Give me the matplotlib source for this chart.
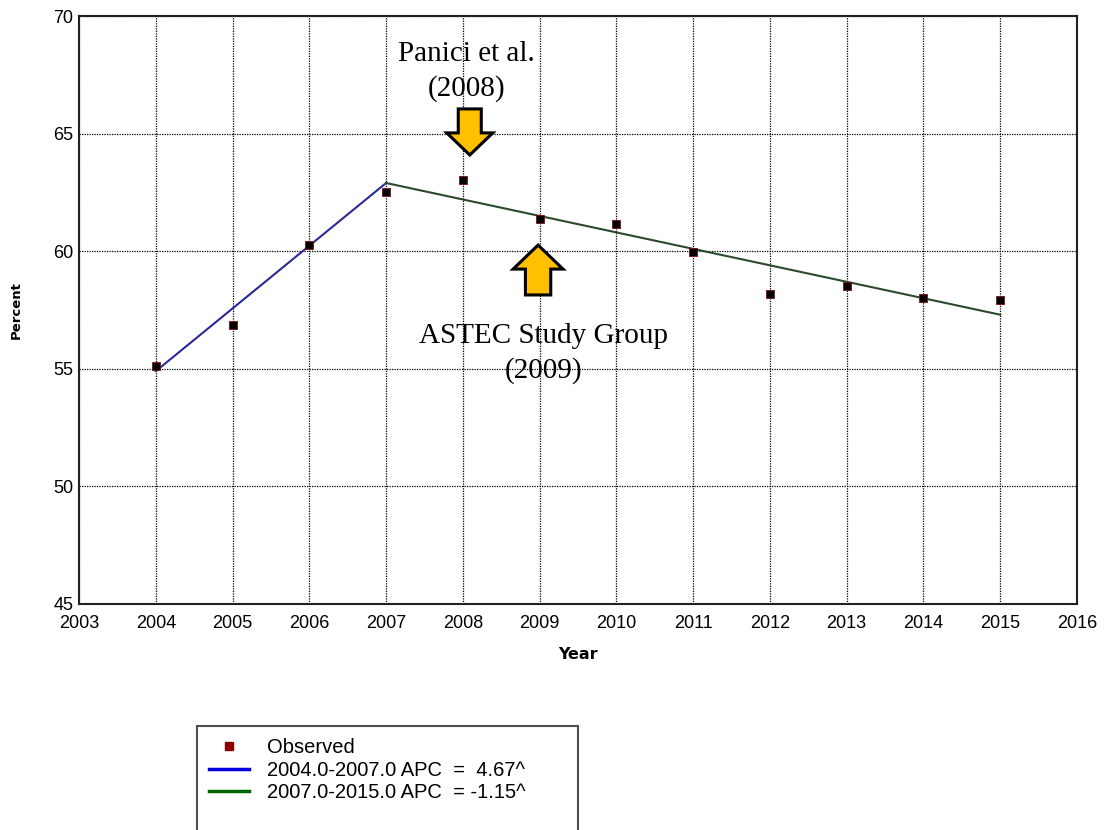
import matplotlib
matplotlib.use("Agg")
import matplotlib.pyplot as plt
from matplotlib.lines import Line2D
from matplotlib.patches import FancyArrow

years = [2004, 2005, 2006, 2007, 2008, 2009, 2010, 2011, 2012, 2013, 2014, 2015]
observed = [55.1, 56.86, 60.26, 62.52, 63.03, 61.37, 61.16, 59.97, 58.18, 58.52, 58.01, 57.93]

seg1_years = [2004, 2007]
seg1_fit = [54.9, 62.9]
seg2_years = [2007, 2015]
seg2_fit = [62.9, 57.3]

seg_labels = ["2004.0-2007.0 APC  =  4.67^", "2007.0-2015.0 APC  = -1.15^"]

fig = plt.figure(figsize=(11.04, 8.3), dpi=100)
ax = fig.add_axes([0.0716, 0.2723, 0.9039, 0.7084])

ax.plot(seg1_years, seg1_fit, color="#2a2a96", linewidth=1.5, zorder=3)
ax.plot(seg2_years, seg2_fit, color="#2c4a2c", linewidth=1.5, zorder=3)
ax.scatter(years, observed, marker="s", s=40, color="black",
           edgecolors="#7a1010", linewidths=0.6, zorder=4)

ax.set_xlim(2003, 2016)
ax.set_ylim(45, 70)
ax.set_xticks(range(2003, 2017))
ax.set_yticks(range(45, 71, 5))
ax.grid(True, color="black", linestyle=(0, (1, 1)), linewidth=0.9)
ax.tick_params(length=0, labelsize=13, pad=4)
ax.tick_params(axis="x", pad=8)
for lab in ax.get_xticklabels() + ax.get_yticklabels():
    lab.set_family("Liberation Sans")
for s in ax.spines.values():
    s.set_linewidth(1.5)
    s.set_color("#222222")

ax.set_xlabel("Year", fontsize=11.5, fontweight="bold", labelpad=11)
ax.set_ylabel("Percent", fontsize=9.5, fontweight="bold", labelpad=22)

# annotation arrows
ax.add_patch(FancyArrow(2008.09, 66.05, 0, -1.96, width=0.3, head_width=0.6,
                        head_length=0.94, length_includes_head=True,
                        facecolor="#FFC000", edgecolor="black", linewidth=2.2, zorder=5))
ax.add_patch(FancyArrow(2008.98, 58.14, 0, 2.12, width=0.33, head_width=0.65,
                        head_length=1.02, length_includes_head=True,
                        facecolor="#FFC000", edgecolor="black", linewidth=2.2, zorder=5))

ax.text(2008.05, 67.65, "Panici et al.\n(2008)", ha="center", va="center",
        family="Liberation Serif", fontsize=21, linespacing=1.4, zorder=6)
ax.text(2009.05, 55.65, "ASTEC Study Group\n(2009)", ha="center", va="center",
        family="Liberation Serif", fontsize=21, linespacing=1.4, zorder=6)

handles = [
    Line2D([], [], linestyle="none", marker="s", markersize=6, color="#8b0000"),
    Line2D([], [], color="#0000dd", linewidth=2.5),
    Line2D([], [], color="#006400", linewidth=2.5),
    Line2D([], [], color="none"),
    Line2D([], [], color="none"),
]
labels = ["Observed"] + seg_labels + [" ", " "]
leg = fig.legend(handles, labels, loc="upper left", mode="expand",
                 bbox_to_anchor=(197 / 1104, 1 - 726 / 830, (578 - 197) / 1104, 0),
                 prop={"family": "Liberation Sans", "size": 14.5},
                 frameon=True, fancybox=False, edgecolor="#222222",
                 borderpad=0.6, labelspacing=0.18, handlelength=2.0,
                 handletextpad=0.9, borderaxespad=0)
leg.get_frame().set_linewidth(1.5)

fig.savefig("out.png", dpi=100)
